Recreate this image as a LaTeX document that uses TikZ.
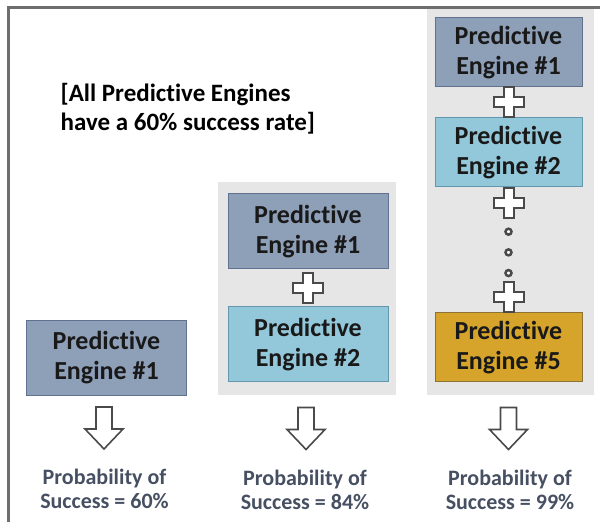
\documentclass[tikz,border=0pt]{standalone}
\usepackage{fontspec}
\setmainfont{Carlito}[Ligatures=NoCommon]
\usepackage{tikz}
\usetikzlibrary{calc,backgrounds}

\definecolor{engineA}{HTML}{8E9FB8}
\definecolor{engineAline}{HTML}{60728F}
\definecolor{engineB}{HTML}{93C8DA}
\definecolor{engineBline}{HTML}{6497AE}
\definecolor{engineE}{HTML}{D6A42A}
\definecolor{engineEline}{HTML}{8C7234}
\definecolor{panelgray}{HTML}{E6E6E6}
\definecolor{frameline}{HTML}{6E6E6E}
\definecolor{markline}{HTML}{4A4A4A}
\definecolor{resulttext}{HTML}{465062}

\begin{document}
\begin{tikzpicture}[x=1pt,y=1pt,semithick]

    \useasboundingbox (0,0) rectangle (600,522);

    \tikzstyle{engine}=[draw, line width=1pt, align=center, inner sep=0pt, text=black!90, font=\fontsize{26}{30}\selectfont\bfseries]
    \tikzstyle{wide}=[minimum width=160pt, minimum height=75pt]
    \tikzstyle{narrow}=[minimum width=147pt, minimum height=69pt]
    \tikzstyle{engineone}=[engine, fill=engineA, draw=engineAline]
    \tikzstyle{enginetwo}=[engine, fill=engineB, draw=engineBline]
    \tikzstyle{enginefive}=[engine, fill=engineE, draw=engineEline]
    \tikzstyle{panel}=[fill=panelgray]
    \tikzstyle{plusmark}=[draw=markline, fill=white, line width=2pt]
    \tikzstyle{dotmark}=[draw=markline, fill=white, line width=2.5pt]
    \tikzstyle{resultarrow}=[draw=markline, fill=white, line width=1.6pt]
    \tikzstyle{result}=[align=center, text=resulttext, font=\fontsize{22}{24}\selectfont\bfseries]
    \tikzstyle{note}=[align=left, font=\fontsize{25}{29}\selectfont\bfseries]

    \def \plusW {5} % half width of a plus arm
    \def \plusL {15} % half length of the plus

    \newcommand\plussign[1]{
        \draw[plusmark] (#1) ++(-\plusW,\plusL) -- ++(2*\plusW,0) -- ++(0,-\plusL+\plusW) -- ++(\plusL-\plusW,0) -- ++(0,-2*\plusW) -- ++(-\plusL+\plusW,0) -- ++(0,-\plusL+\plusW) -- ++(-2*\plusW,0) -- ++(0,\plusL-\plusW) -- ++(-\plusL+\plusW,0) -- ++(0,2*\plusW) -- ++(\plusL-\plusW,0) -- cycle;
    }
    \newcommand\resultarrow[1]{
        \draw[resultarrow] (#1) ++(-8,0) -- ++(0,-22) -- ++(-11,0) -- ++(19,-20) -- ++(19,20) -- ++(-11,0) -- ++(0,22) -- cycle;
    }

    % outer frame, only top and left are visible
    \draw[frameline, line width=3pt] (8.5,0) -- (8.5,514.5) -- (600,514.5);

    \node[note, anchor=west] (note) at (57,413) {[All Predictive Engines\\have a 60\% success rate]};

    % the engines
    \node[engineone, wide] (c1e1) at (106.5,164) {Predictive\\Engine \#1};

    \node[engineone, wide] (c2e1) at (308,290.5) {Predictive\\Engine \#1};
    \node[enginetwo, wide] (c2e2) at (308,177.5) {Predictive\\Engine \#2};

    \node[engineone, narrow] (c3e1) at (508.5,469.5) {Predictive\\Engine \#1};
    \node[enginetwo, narrow] (c3e2) at (508.5,369.5) {Predictive\\Engine \#2};
    \node[enginefive, narrow] (c3e5) at (508.5,174.5) {Predictive\\Engine \#5};

    % gray panels behind the stacks
    \begin{scope}[on background layer]
        \fill[panel] ($(c2e1.north west)+(-10,11)$) rectangle ($(c2e2.south east)+(7,-13)$);
        \fill[panel] ($(c3e1.north west)+(-8,8)$) rectangle ($(c3e5.south east)+(11,-13)$);
    \end{scope}

    % plus signs and dots
    \coordinate (p21) at ($(c2e1.south)!0.5!(c2e2.north)$);
    \coordinate (p31) at ($(c3e1.south)!0.5!(c3e2.north)$);
    \coordinate (p32) at ($(c3e2.south)+(0,-16)$);
    \coordinate (p33) at ($(c3e5.north)+(0,15)$);
    \plussign{p21}
    \plussign{p31}
    \plussign{p32}
    \plussign{p33}
    \foreach \f in {0.3,0.52,0.74}
        \draw[dotmark] ($(p32)!\f!(p33)$) circle (3);

    % arrows down to the results
    \coordinate (a1) at ($(c1e1.south)+(-2.5,-11)$);
    \coordinate (a2) at ($(c2e2.south)+(-2,-25)$);
    \coordinate (a3) at ($(c3e5.south)+(0,-25)$);
    \resultarrow{a1}
    \resultarrow{a2}
    \resultarrow{a3}

    \node[result] (r1) at ($(a1)+(0.5,-82)$) {Probability of\\Success = 60\%};
    \node[result] (r2) at ($(a2)+(-1,-82)$) {Probability of\\Success = 84\%};
    \node[result] (r3) at ($(a3)+(1.5,-82)$) {Probability of\\Success = 99\%};

\end{tikzpicture}
\end{document}
